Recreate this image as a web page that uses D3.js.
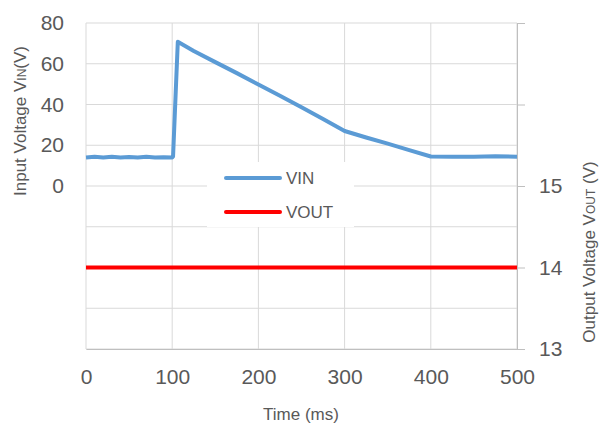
<!DOCTYPE html>
<html>
<head>
<meta charset="utf-8">
<script src="https://cdn.jsdelivr.net/npm/d3@7"></script>
<style>
  body { margin: 0; background: #fff; }
  svg { font-family: "Liberation Sans", Arial, sans-serif; }
</style>
</head>
<body>
<svg width="602" height="426"></svg>
<script>
var vinTime = [0, 10, 20, 30, 40, 50, 60, 70, 80, 90, 100, 101, 106.5, 125, 150, 175, 200, 225, 250, 275, 300, 325, 350, 375, 400, 425, 450, 475, 500];
var vinVolt = [14, 14.3, 14, 14.3, 14, 14.2, 14, 14.3, 14, 14.1, 14, 14.5, 70.8, 66.3, 60.8, 55.4, 49.8, 44.3, 38.7, 32.9, 27, 23.8, 20.8, 17.6, 14.5, 14.4, 14.4, 14.6, 14.4];
var voutTime = [0, 50, 100, 150, 200, 250, 300, 350, 400, 450, 500];
var voutVolt = [14, 14, 14, 14, 14, 14, 14, 14, 14, 14, 14];
var xTicks = [0, 100, 200, 300, 400, 500];
var leftTicks = [0, 20, 40, 60, 80];
var rightTicks = [13, 14, 15];
var seriesNames = ["VIN", "VOUT"];
var seriesColors = ["#5b9bd5", "#ff0000"];

var svg = d3.select("svg");
var pLeft = 86, pRight = 517, pTop = 23, pBottom = 349;

var x = d3.scaleLinear().domain([0, 500]).range([pLeft, pRight]);
var yL = d3.scaleLinear().domain([-80, 80]).range([pBottom, pTop]);
var yR = d3.scaleLinear().domain([13, 17]).range([pBottom, pTop]);

var grid = "#d9d9d9", textCol = "#595959";

// horizontal gridlines (every 20 V on left scale)
svg.append("g").selectAll("line")
    .data(d3.range(-80, 81, 20))
  .enter().append("line")
    .attr("x1", pLeft).attr("x2", pRight)
    .attr("y1", function(d) { return yL(d); })
    .attr("y2", function(d) { return yL(d); })
    .attr("stroke", grid).attr("stroke-width", 1);

// vertical gridlines
svg.append("g").selectAll("line")
    .data(xTicks)
  .enter().append("line")
    .attr("x1", function(d) { return x(d); })
    .attr("x2", function(d) { return x(d); })
    .attr("y1", pTop).attr("y2", pBottom)
    .attr("stroke", grid).attr("stroke-width", 1);

// bottom axis
var xAxis = svg.append("g")
    .attr("transform", "translate(0," + pBottom + ")")
    .call(d3.axisBottom(x).tickValues(xTicks).tickSize(0).tickPadding(20));
xAxis.select(".domain").attr("stroke", "#bfbfbf");
xAxis.selectAll("text").attr("fill", textCol).attr("font-size", 21);

// left axis, labels only
var lAxis = svg.append("g")
    .attr("transform", "translate(" + (pLeft - 22) + ",0)")
    .call(d3.axisLeft(yL).tickValues(leftTicks).tickSize(0).tickPadding(0));
lAxis.select(".domain").remove();
lAxis.selectAll("text").attr("fill", textCol).attr("font-size", 21);

// right axis with tick marks every 1 V, labels 13..15
var rAxis = svg.append("g")
    .attr("transform", "translate(" + pRight + ",0)")
    .call(d3.axisRight(yR).tickValues([13, 14, 15, 16, 17]).tickSize(8).tickPadding(14)
      .tickFormat(function(d) { return rightTicks.indexOf(d) >= 0 ? d : ""; }));
rAxis.selectAll("line, .domain").attr("stroke", "#bfbfbf");
rAxis.selectAll("text").attr("fill", textCol).attr("font-size", 21);

// series
var lineL = d3.line()
    .x(function(d, i) { return x(vinTime[i]); })
    .y(function(d) { return yL(d); });
var lineR = d3.line()
    .x(function(d, i) { return x(voutTime[i]); })
    .y(function(d) { return yR(d); });

svg.append("path")
    .datum(voutVolt)
    .attr("d", lineR)
    .attr("fill", "none")
    .attr("stroke", seriesColors[1])
    .attr("stroke-width", 4);

svg.append("path")
    .datum(vinVolt)
    .attr("d", lineL)
    .attr("fill", "none")
    .attr("stroke", seriesColors[0])
    .attr("stroke-width", 4)
    .attr("stroke-linejoin", "round");

// legend
var legend = svg.append("g").attr("transform", "translate(207,162)");
legend.append("rect").attr("width", 147).attr("height", 65).attr("fill", "#fff");
seriesNames.forEach(function(name, i) {
  var yy = 16 + i * 34;
  legend.append("line")
      .attr("x1", 19).attr("x2", 73).attr("y1", yy).attr("y2", yy)
      .attr("stroke", seriesColors[i]).attr("stroke-width", 4)
      .attr("stroke-linecap", "round");
  legend.append("text")
      .attr("x", 79).attr("y", yy + 6)
      .attr("fill", textCol).attr("font-size", 17)
      .text(name);
});

// axis titles
svg.append("text")
    .attr("x", 301).attr("y", 420)
    .attr("text-anchor", "middle")
    .attr("fill", textCol).attr("font-size", 17)
    .text("Time (ms)");

var lt = svg.append("text")
    .attr("transform", "translate(26,121) rotate(-90)")
    .attr("text-anchor", "middle")
    .attr("fill", textCol).attr("font-size", 17);
lt.append("tspan").text("Input Voltage V");
lt.append("tspan").attr("font-size", 12).text("IN");
lt.append("tspan").text("(V)");

var rt = svg.append("text")
    .attr("transform", "translate(595,252) rotate(-90)")
    .attr("text-anchor", "middle")
    .attr("fill", textCol).attr("font-size", 17);
rt.append("tspan").text("Output Voltage V");
rt.append("tspan").attr("font-size", 12).text("OUT");
rt.append("tspan").text(" (V)");
</script>
</body>
</html>
